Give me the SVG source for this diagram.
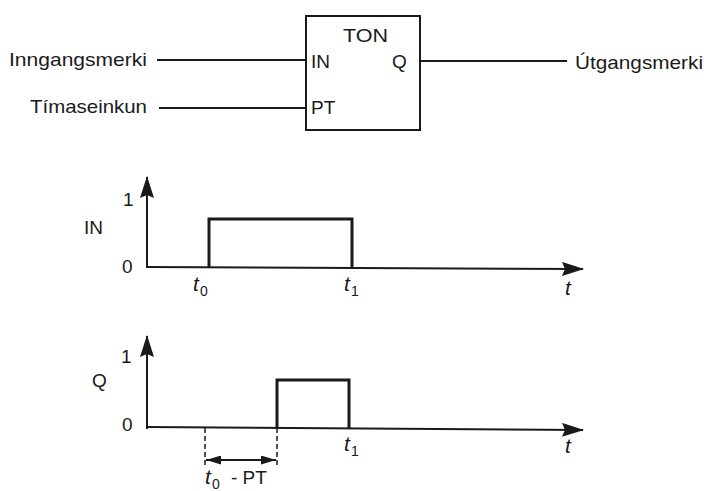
<svg xmlns="http://www.w3.org/2000/svg" width="708" height="491" viewBox="0 0 708 491">
<defs>
<style>
.t{font-family:"Liberation Sans",Arial,sans-serif;font-size:19px;fill:#1a1a1a}
.ti{font-family:"Liberation Sans",Arial,sans-serif;font-size:21px;font-style:italic;fill:#1a1a1a}
.sub{font-family:"Liberation Sans",Arial,sans-serif;font-size:14px;fill:#1a1a1a}
.ln{stroke:#1a1a1a;stroke-width:2;fill:none}
.pulse{stroke:#1a1a1a;stroke-width:3;fill:none}
.dash{stroke:#1a1a1a;stroke-width:1.5;stroke-dasharray:5,3;fill:none}
</style>
<marker id="ax" viewBox="0 0 22 14" refX="21" refY="7" markerWidth="22" markerHeight="14" markerUnits="userSpaceOnUse" orient="auto">
<path d="M0,0 L22,7 L0,14 L3,7 Z" fill="#1a1a1a"/>
</marker>
<marker id="dim" viewBox="0 0 15 9" refX="15" refY="4.5" markerWidth="15" markerHeight="9" markerUnits="userSpaceOnUse" orient="auto-start-reverse">
<path d="M0,0 L15,4.5 L0,9 Z" fill="#1a1a1a"/>
</marker>
</defs>
<rect width="708" height="491" fill="#ffffff"/>

<g id="ton-block">
<rect x="306" y="16" width="114" height="114" class="ln"/>
<text x="343" y="42" class="t" textLength="45" lengthAdjust="spacingAndGlyphs">TON</text>
<text x="311" y="68" class="t">IN</text>
<text x="392" y="68" class="t">Q</text>
<text x="311" y="114" class="t">PT</text>
</g>

<g id="in-signal">
<text x="9" y="66" class="t" textLength="138" lengthAdjust="spacingAndGlyphs">Inngangsmerki</text>
</g>
<g id="pt-signal">
<text x="30" y="113" class="t" textLength="117" lengthAdjust="spacingAndGlyphs">Tímaseinkun</text>
</g>
<g id="q-signal">
<text x="575" y="69" class="t" textLength="128" lengthAdjust="spacingAndGlyphs">Útgangsmerki</text>
</g>

<g id="connectors">
<line x1="157" y1="60" x2="306" y2="60" class="ln"/>
<line x1="159" y1="108" x2="306" y2="108" class="ln"/>
<line x1="420" y1="61" x2="567" y2="61" class="ln"/>
</g>

<g id="chart-in">
<line x1="147" y1="268" x2="147" y2="177" class="ln" marker-end="url(#ax)"/>
<line x1="146" y1="267" x2="583" y2="269" class="ln" marker-end="url(#ax)"/>
<polyline points="209,267 209,219 352,219 352,268" class="pulse"/>
<text x="123" y="206" class="t">1</text>
<text x="84" y="234" class="t">IN</text>
<text x="122" y="273" class="t">0</text>
<text x="193" y="291" class="ti">t</text><text x="200" y="296" class="sub">0</text>
<text x="344" y="291" class="ti">t</text><text x="351" y="296" class="sub">1</text>
<text x="565" y="295" class="ti">t</text>
</g>

<g id="chart-q">
<line x1="147" y1="429" x2="147" y2="336" class="ln" marker-end="url(#ax)"/>
<line x1="146" y1="427" x2="583" y2="430" class="ln" marker-end="url(#ax)"/>
<polyline points="277,428 277,380 349,380 349,429" class="pulse"/>
<text x="121" y="363" class="t">1</text>
<text x="92" y="387" class="t">Q</text>
<text x="122" y="431" class="t">0</text>
<text x="344" y="451" class="ti">t</text><text x="351" y="456" class="sub">1</text>
<text x="565" y="453" class="ti">t</text>
<line x1="205" y1="428" x2="205" y2="465" class="dash"/>
<line x1="277" y1="428" x2="277" y2="465" class="dash"/>
<line x1="206" y1="460" x2="276" y2="460" class="ln" marker-start="url(#dim)" marker-end="url(#dim)"/>
<text x="205" y="484" class="ti">t</text><text x="212" y="489" class="sub">0</text>
<text x="231" y="484" class="t">- PT</text>
</g>
</svg>
